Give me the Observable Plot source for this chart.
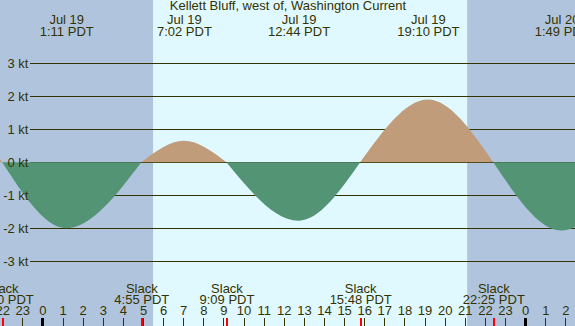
<!DOCTYPE html>
<html>
<head>
<meta charset="utf-8">
<script src="https://cdn.jsdelivr.net/npm/d3@7"></script>
<script src="https://cdn.jsdelivr.net/npm/@observablehq/plot@0.6"></script>
<style>
  html, body { margin: 0; padding: 0; background: #b0c4de; }
  #chart svg { display: block; }
</style>
</head>
<body>
<div id="chart"></div>
<script>
// ---- Data (hours relative to midnight Jul 19, PDT) ----
const title = "Kellett Bluff, west of, Washington Current";

// Current events: slack (0) and maximum flood (+) / ebb (-) in knots
const eventHours  = [-8.6, -5.1, -2.0, 1.183, 4.917, 7.033, 9.15, 12.733, 15.8, 19.167, 22.417, 25.817, 29.3];
const eventValues = [0,    1.9,   0,   -2.0,  0,     0.65,  0,    -1.77,  0,    1.9,    0,      -2.07,  0];

// Labels for maxima (top)
const maxHours = [1.183, 7.033, 12.733, 19.167, 25.817];
const maxDates = ["Jul 19", "Jul 19", "Jul 19", "Jul 19", "Jul 20"];
const maxTimes = ["1:11 PDT", "7:02 PDT", "12:44 PDT", "19:10 PDT", "1:49 PDT"];

// Labels for slack water (bottom)
const slackHours = [-2.0, 4.917, 9.15, 15.8, 22.417];
const slackTimes = ["22:00 PDT", "4:55 PDT", "9:09 PDT", "15:48 PDT", "22:25 PDT"];

// Daylight
const sunrise = [5.5];
const sunset  = [21.12];

// Axis ticks
const ktTicks = [3, 2, 1, 0, -1, -2, -3];
const hourTicks = [-2, -1, 0, 1, 2, 3, 4, 5, 6, 7, 8, 9, 10, 11, 12, 13, 14, 15, 16, 17, 18, 19, 20, 21, 22, 23, 24, 25, 26];
const midnightHours = [0, 24];

// ---- Build segments between consecutive slack waters ----
const segments = [];
let seg = 0;
for (let i = 0; i + 2 < eventHours.length; i += 2) {
  const kind = eventValues[i + 1] >= 0 ? "flood" : "ebb";
  for (let j = i; j <= i + 2; j++) {
    segments.push({t: eventHours[j], v: eventValues[j], seg, kind});
  }
  seg++;
}
const daylight = sunrise.map((r, i) => ({rise: r, set: sunset[i]}));
const maxLabels = maxHours.map((h, i) => ({h, date: maxDates[i], time: maxTimes[i]}));
const slackLabels = slackHours.map((h, i) => ({h, time: slackTimes[i]}));

const ink = "#333300";
const font = "'Liberation Sans', Arial, sans-serif";

const chart = Plot.plot({
  width: 575,
  height: 326,
  margin: 0,
  x: {domain: [-2.11, 26.48], axis: null},
  y: {domain: [-4.961, 4.918], axis: null},
  style: {background: "#b0c4de", fontFamily: font, fontSize: "13px", color: ink},
  marks: [
    Plot.rectX(daylight, {x1: "rise", x2: "set", fill: "#e0f8ff"}),
    Plot.ruleY(ktTicks, {y: d => d, insetLeft: 30, stroke: ink, strokeWidth: 1, shapeRendering: "crispEdges"}),
    Plot.areaY(segments, {filter: d => d.kind === "flood", x: "t", y: "v", z: "seg", fill: "#c09c7a", curve: "monotone-x", clip: true}),
    Plot.areaY(segments, {filter: d => d.kind === "ebb", x: "t", y: "v", z: "seg", fill: "#539474", curve: "monotone-x", clip: true}),
    Plot.text(ktTicks, {y: d => d, text: d => `${d} kt`, frameAnchor: "left", dx: 28, textAnchor: "end", fill: ink, fontSize: 13}),
    // Title
    Plot.text([title], {text: d => d, frameAnchor: "top", dy: 5.8, lineAnchor: "middle", fill: ink, fontSize: 13}),
    // Max current labels
    Plot.text(maxLabels, {x: "h", text: "date", frameAnchor: "top", dy: 19.8, lineAnchor: "middle", fill: ink, fontSize: 13}),
    Plot.text(maxLabels, {x: "h", text: "time", frameAnchor: "top", dy: 31.8, lineAnchor: "middle", fill: ink, fontSize: 13}),
    // Slack labels
    Plot.text(slackLabels, {x: "h", text: () => "Slack", frameAnchor: "top", dy: 288.1, lineAnchor: "middle", fill: ink, fontSize: 13}),
    Plot.text(slackLabels, {x: "h", text: "time", frameAnchor: "top", dy: 299.8, lineAnchor: "middle", fill: ink, fontSize: 13}),
    // Hour labels and ticks
    Plot.text(hourTicks, {x: d => d, text: d => String(((d % 24) + 24) % 24), frameAnchor: "top", dy: 310.8, lineAnchor: "middle", fill: ink, fontSize: 13}),
    Plot.ruleX(hourTicks, {x: d => d, insetTop: 318, stroke: ink, strokeWidth: 1, shapeRendering: "crispEdges"}),
    Plot.ruleX(slackHours, {x: d => d, insetTop: 318, stroke: "#ff0000", strokeWidth: 2, shapeRendering: "crispEdges"}),
    Plot.ruleX(midnightHours, {x: d => d, insetTop: 318, stroke: "#000000", strokeWidth: 3, shapeRendering: "crispEdges"})
  ]
});
document.getElementById("chart").appendChild(chart);
</script>
</body>
</html>
